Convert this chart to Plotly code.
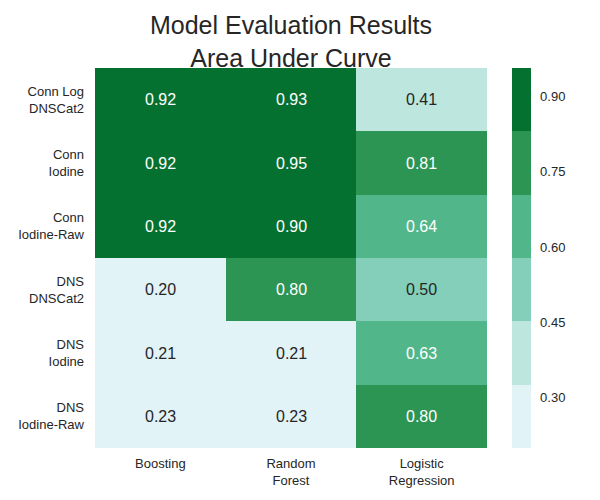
import plotly.graph_objects as go

models = ["Boosting", "Random<br>Forest", "Logistic<br>Regression"]
datasets = ["Conn Log<br>DNSCat2", "Conn<br>Iodine", "Conn<br>Iodine-Raw",
            "DNS<br>DNSCat2", "DNS<br>Iodine", "DNS<br>Iodine-Raw"]
boosting = [0.92, 0.92, 0.92, 0.20, 0.21, 0.23]
random_forest = [0.93, 0.95, 0.90, 0.80, 0.21, 0.23]
logistic = [0.41, 0.81, 0.64, 0.50, 0.63, 0.80]
cbar_ticks = [0.30, 0.45, 0.60, 0.75, 0.90]

palette = ["#e1f3f6", "#bde6de", "#83cfb9", "#51b78a", "#2c9553", "#057130"]
zmin, zmax = 0.20, 0.956

z = [[boosting[i], random_forest[i], logistic[i]] for i in range(len(datasets))]

n = len(palette)
colorscale = []
for k, c in enumerate(palette):
    colorscale.append([k / n, c])
    colorscale.append([(k + 1) / n, c])

def cell_color(v):
    k = int((v - zmin) / (zmax - zmin) * n)
    k = max(0, min(n - 1, k))
    return palette[k]

def lum(hexc):
    r, g, b = [int(hexc[i:i + 2], 16) / 255 for i in (1, 3, 5)]
    f = lambda c: c / 12.92 if c <= 0.03928 else ((c + 0.055) / 1.055) ** 2.4
    return 0.2126 * f(r) + 0.7152 * f(g) + 0.0722 * f(b)

FONT = "Arial, Liberation Sans, sans-serif"
W, H = 592, 492
L, R, T, B = 87, 113, 60, 51.5

fig = go.Figure(go.Heatmap(
    z=z, x=models, y=datasets,
    zmin=zmin, zmax=zmax,
    colorscale=colorscale,
    xgap=0, ygap=0,
    colorbar=dict(
        x=(504 - L) / (W - L - R), xanchor="left", xpad=0, ypad=0,
        y=0.5, yanchor="middle", len=1.0, lenmode="fraction",
        thickness=19, outlinewidth=0,
        tickvals=cbar_ticks, ticktext=[f"{t:.2f}" for t in cbar_ticks],
        ticks="outside", ticklen=7, tickcolor="rgba(0,0,0,0)",
        tickfont=dict(family=FONT, size=13, color="#262626"),
    ),
    hoverinfo="skip",
))

annotations = []
for i, ds in enumerate(datasets):
    for j, m in enumerate(models):
        v = z[i][j]
        col = "white" if lum(cell_color(v)) < 0.408 else "#262626"
        annotations.append(dict(x=m, y=ds, text=f"{v:.2f}", showarrow=False,
                                font=dict(family=FONT, size=16, color=col)))

fig.update_layout(
    width=W, height=H,
    margin=dict(l=L, r=R, t=T, b=B, autoexpand=False),
    paper_bgcolor="white", plot_bgcolor="white",
    title=dict(text="Model Evaluation Results<br>Area Under Curve",
               x=(L + (W - R)) / 2 / W, xanchor="center",
               y=1 - 26 / H, yanchor="middle",
               font=dict(family=FONT, size=25, color="#262626")),
    annotations=annotations,
    font=dict(family=FONT, color="#262626"),
)
fig.update_xaxes(showgrid=False, zeroline=False, showline=False, ticks="",
                 ticklabelstandoff=6,
                 tickfont=dict(family=FONT, size=13, color="#262626"))
fig.update_yaxes(showgrid=False, zeroline=False, showline=False, ticks="",
                 autorange="reversed", ticklabelstandoff=10,
                 tickfont=dict(family=FONT, size=13, color="#262626"))

fig.write_html("out.html")
